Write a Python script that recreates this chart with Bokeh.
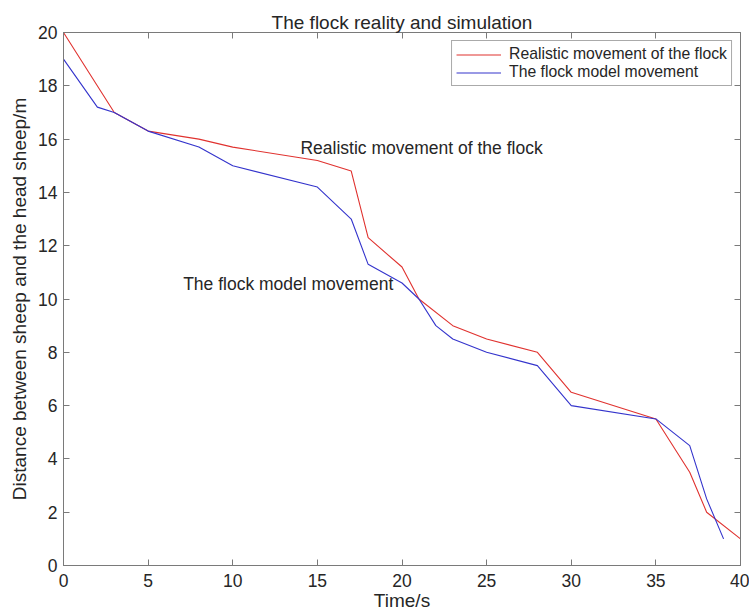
from bokeh.plotting import figure
from bokeh.models import (LinearAxis, Range1d, Legend, LegendItem, Label,
                          FixedTicker, ColumnDataSource)
from bokeh.embed import file_html
from bokeh.resources import INLINE

# ---- data ----
time_real = [0, 3, 5, 8, 10, 15, 17, 18, 20, 21, 23, 25, 28, 30, 35, 37, 38, 40]
dist_real = [20, 17, 16.3, 16, 15.7, 15.2, 14.8, 12.3, 11.2, 10, 9, 8.5, 8, 6.5,
             5.5, 3.5, 2, 1]
time_model = [0, 2, 3, 5, 8, 10, 15, 17, 18, 20, 21, 22, 23, 25, 28, 30, 35, 37,
              38, 39]
dist_model = [19, 17.2, 17, 16.3, 15.7, 15, 14.2, 13, 11.3, 10.6, 10, 9, 8.5, 8,
              7.5, 6, 5.5, 4.5, 2.5, 1]
x_ticks = [0, 5, 10, 15, 20, 25, 30, 35, 40]
y_ticks = [0, 2, 4, 6, 8, 10, 12, 14, 16, 18, 20]

series_names = ["Realistic movement of the flock", "The flock model movement"]
title_text = "The flock reality and simulation"
x_label = "Time/s"
y_label = "Distance between sheep and the head sheep/m"

FONT = "Liberation Sans"
AXIS_COLOR = "#7a7a7a"
TEXT_COLOR = "#262626"
RED = "#e0322f"
BLUE = "#3434cc"

p = figure(width=749, height=615, output_backend="svg", toolbar_location=None,
           x_range=Range1d(0, 40), y_range=Range1d(0, 20),
           min_border_left=63, min_border_right=9, min_border_top=32,
           min_border_bottom=50, background_fill_color="white",
           border_fill_color="white")

p.title.text = title_text
p.title.align = "center"
p.title.text_font = FONT
p.title.text_font_size = "19px"
p.title.text_font_style = "normal"
p.title.text_color = TEXT_COLOR
p.title.standoff = 0

p.xgrid.visible = False
p.ygrid.visible = False
p.outline_line_color = AXIS_COLOR
p.outline_line_width = 1

src_r = ColumnDataSource(dict(x=time_real, y=dist_real))
src_m = ColumnDataSource(dict(x=time_model, y=dist_model))
r1 = p.line("x", "y", source=src_r, line_color=RED, line_width=1.1)
r2 = p.line("x", "y", source=src_m, line_color=BLUE, line_width=1.1)

def style_axis(ax, ticks, show_labels=True):
    ax.ticker = FixedTicker(ticks=ticks)
    ax.axis_line_color = AXIS_COLOR
    ax.major_tick_line_color = AXIS_COLOR
    ax.major_tick_in = 6
    ax.major_tick_out = 0
    ax.minor_tick_line_color = None
    ax.major_label_text_font = FONT
    ax.axis_label_text_font = FONT
    ax.axis_label_text_color = TEXT_COLOR
    ax.axis_label_text_font_style = "normal"
    if show_labels:
        ax.major_label_text_font_size = "17.5px"
        ax.major_label_text_color = TEXT_COLOR
    else:
        ax.major_label_text_font_size = "0px"
        ax.major_label_text_color = None
        ax.major_label_standoff = 0

xa = p.xaxis[0]
style_axis(xa, x_ticks)
xa.axis_label = x_label
xa.axis_label_text_font_size = "19px"
xa.major_label_standoff = 8
xa.axis_label_standoff = 0

ya = p.yaxis[0]
style_axis(ya, y_ticks)
ya.axis_label = y_label
ya.axis_label_text_font_size = "19px"
ya.major_label_standoff = 6
ya.axis_label_standoff = 5

top_ax = LinearAxis()
style_axis(top_ax, x_ticks, show_labels=False)
p.add_layout(top_ax, "above")
right_ax = LinearAxis()
style_axis(right_ax, y_ticks, show_labels=False)
p.add_layout(right_ax, "right")

legend = Legend(items=[LegendItem(label=series_names[0], renderers=[r1]),
                       LegendItem(label=series_names[1], renderers=[r2])],
                location="top_right")
legend.label_text_font = FONT
legend.label_text_font_size = "15.75px"
legend.label_text_line_height = 0.9
legend.label_text_color = TEXT_COLOR
legend.glyph_width = 45
legend.glyph_height = 13
legend.label_height = 13
legend.label_standoff = 8
legend.padding = 4
legend.spacing = 0
legend.margin = 8
legend.border_line_color = "#555555"
legend.border_line_width = 1
legend.background_fill_color = "white"
p.add_layout(legend)

p.add_layout(Label(x=14, y=15.68, text=series_names[0], text_font=FONT,
                   text_font_size="17.5px", text_color=TEXT_COLOR,
                   text_baseline="middle", text_align="left"))
p.add_layout(Label(x=7.07, y=10.58, text=series_names[1], text_font=FONT,
                   text_font_size="17.5px", text_color=TEXT_COLOR,
                   text_baseline="middle", text_align="left"))

open("out.html", "w").write(file_html(p, INLINE))
